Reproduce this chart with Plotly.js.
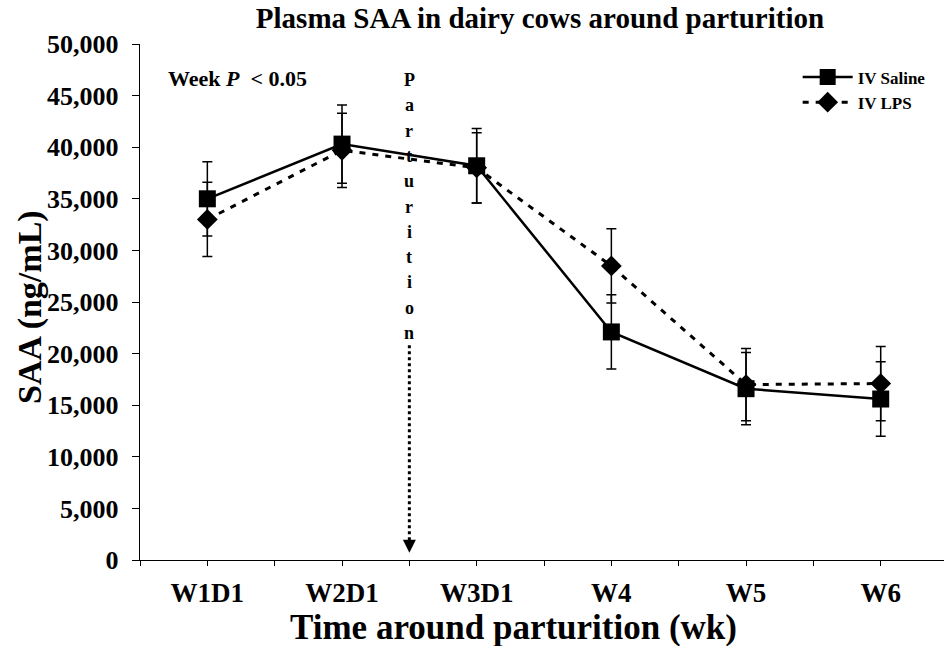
<!DOCTYPE html>
<html>
<head>
<meta charset="utf-8">
<script src="https://cdn.plot.ly/plotly-3.0.1.min.js"></script>
<style>html,body{margin:0;padding:0;background:#fff}#chart{width:944px;height:646px}</style>
</head>
<body>
<div id="chart"></div>
<script>
// ---- data ----
const categories = ["W1D1", "W2D1", "W3D1", "W4", "W5", "W6"];
const salineMean = [35000, 40300, 38200, 22100, 16600, 15600];
const salineErr  = [3600, 3800, 3600, 3600, 3500, 3600];
const lpsMean    = [33000, 39700, 38000, 28500, 17000, 17100];
const lpsErr     = [3600, 3600, 3400, 3600, 3500, 3600];
const yTickVals  = [0, 5000, 10000, 15000, 20000, 25000, 30000, 35000, 40000, 45000, 50000];
const partLabel  = "Parturition";

const xIdx = categories.map((_, i) => i);
const serif = "Liberation Serif, Times New Roman, serif";

const saline = {
  x: xIdx, y: salineMean, name: "IV Saline", type: "scatter", mode: "lines+markers",
  line: {color: "#000", width: 2.5},
  marker: {symbol: "square", size: 17, color: "#000"},
  error_y: {type: "data", array: salineErr, visible: true, color: "#000", thickness: 1.5, width: 5}
};
const lps = {
  x: xIdx, y: lpsMean, name: "IV LPS", type: "scatter", mode: "lines+markers",
  line: {color: "#000", width: 3, dash: "6px,7px"},
  marker: {symbol: "diamond", size: 16, color: "#000"},
  error_y: {type: "data", array: lpsErr, visible: true, color: "#000", thickness: 1.5, width: 5}
};

// x ticks at every half category, labels only at categories
const xTickVals = [], xTickText = [];
for (let i = -0.5; i <= categories.length - 0.5; i += 0.5) {
  xTickVals.push(i);
  xTickText.push(Number.isInteger(i) ? "<b>" + categories[i] + "</b>" : "");
}

const annotations = [
  {xref: "paper", yref: "paper", x: 0.032, y: 0.934, xanchor: "left", yanchor: "middle",
   text: "<b>Week <i>P</i>  < 0.05</b>", showarrow: false, font: {family: serif, size: 22, color: "#000"}},
  {x: 1.5, y: 700, ax: 0, ay: -14, axref: "pixel", ayref: "pixel", text: "", showarrow: true,
   arrowhead: 2, arrowsize: 1.3, arrowwidth: 2, arrowcolor: "#000"},
  {xref: "paper", yref: "paper", x: 0.465, y: -0.131, xanchor: "center", yanchor: "middle",
   text: "<b>Time around parturition (wk)</b>", showarrow: false, font: {family: serif, size: 35, color: "#000"}},
  {xref: "paper", yref: "paper", x: -0.137, y: 0.49, xanchor: "center", yanchor: "middle", textangle: -90,
   text: "<b>SAA (ng/mL)</b>", showarrow: false, font: {family: serif, size: 34, color: "#000"}}
];
partLabel.split("").forEach((ch, i) => {
  annotations.push({
    xref: "x", yref: "paper", x: 1.5, y: (516 - 36 - 25.3 * i) / 516,
    text: "<b>" + ch + "</b>", showarrow: false, yanchor: "middle",
    font: {family: serif, size: 18, color: "#000"}
  });
});

const layout = {
  width: 944, height: 646,
  margin: {l: 140, r: 0, t: 44, b: 86},
  paper_bgcolor: "#fff", plot_bgcolor: "#fff",
  title: {text: "<b>Plasma SAA in dairy cows around parturition</b>", x: 0.4975, xref: "paper",
          y: 1 - 18 / 646, yanchor: "middle", font: {family: serif, size: 29, color: "#000"}},
  xaxis: {
    range: [-0.5, 5.47], tickmode: "array", tickvals: xTickVals, ticktext: xTickText,
    ticks: "outside", ticklen: 5, tickwidth: 1, tickcolor: "#000",
    showline: true, linecolor: "#000", linewidth: 1.3, showgrid: false, zeroline: false,
    tickfont: {family: serif, size: 27, color: "#000"}, ticklabelstandoff: 3
  },
  yaxis: {
    range: [0, 50000], tickmode: "array", tickvals: yTickVals, tickformat: ",d",
    ticks: "outside", ticklen: 7, tickwidth: 1, tickcolor: "#000",
    showline: true, linecolor: "#000", linewidth: 1.3, showgrid: false, zeroline: false,
    tickfont: {family: serif, size: 26, color: "#000", weight: "bold"}, ticklabelstandoff: 8
  },
  legend: {
    x: 0.818, y: 0.97, xanchor: "left", yanchor: "top", bgcolor: "rgba(0,0,0,0)",
    font: {family: serif, size: 17, color: "#000", weight: "bold"},
    itemwidth: 50, tracegroupgap: 0
  },
  shapes: [
    {type: "line", xref: "x", yref: "y", x0: 1.5, x1: 1.5, y0: 20800, y1: 1800,
     line: {color: "#000", width: 3, dash: "dot"}}
  ],
  annotations: annotations,
  showlegend: true
};

Plotly.newPlot("chart", [saline, lps], layout, {displayModeBar: false, staticPlot: true});
</script>
</body>
</html>
